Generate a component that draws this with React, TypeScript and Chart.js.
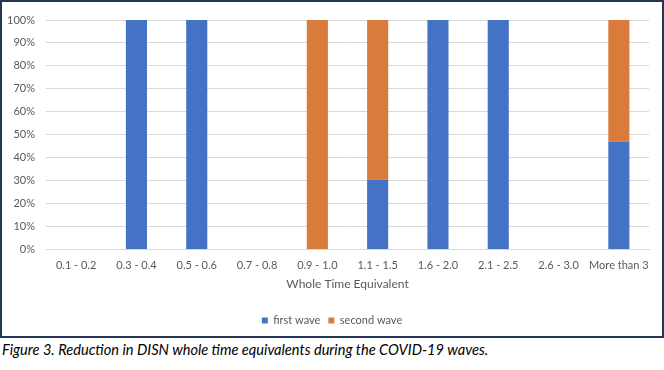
import React, { useEffect, useRef } from "react";
import { Chart, registerables } from "chart.js";

Chart.register(...registerables);

const categories = ["0.1 - 0.2", "0.3 - 0.4", "0.5 - 0.6", "0.7 - 0.8", "0.9 - 1.0", "1.1 - 1.5", "1.6 - 2.0", "2.1 - 2.5", "2.6 - 3.0", "More than 3"];
const firstWave = [0, 100, 100, 0, 0, 30.5, 100, 100, 0, 47];
const secondWave = [0, 0, 0, 0, 100, 69.5, 0, 0, 0, 53];
const seriesNames = ["first wave", "second wave"];
const xTitle = "Whole Time Equivalent";
const caption = "Figure 3. Reduction in DISN whole time equivalents during the COVID-19 waves.";

const FONT = "Lato, 'Open Sans', sans-serif";

export default function App() {
  const ref = useRef<HTMLCanvasElement>(null);
  useEffect(() => {
    document.body.style.margin = "0";
    const chart = new Chart(ref.current!, {
      type: "bar",
      data: {
        labels: categories,
        datasets: [
          { label: seriesNames[0], data: firstWave, backgroundColor: "#4472C4", borderWidth: 0 },
          { label: seriesNames[1], data: secondWave, backgroundColor: "#D97B3B", borderWidth: 0 },
        ],
      },
      options: {
        animation: false,
        responsive: false,
        maintainAspectRatio: false,
        datasets: { bar: { categoryPercentage: 1, barPercentage: 0.35 } },
        layout: { padding: { left: 0, right: 0, top: 18, bottom: 0 } },
        plugins: {
          legend: {
            position: "bottom",
            labels: {
              boxWidth: 6,
              boxHeight: 6,
              color: "#595959",
              font: { family: FONT, size: 11 },
              padding: 8,
            },
          },
          tooltip: { enabled: false },
        },
        scales: {
          x: {
            stacked: true,
            grid: { display: false, drawTicks: false },
            border: { color: "#D9D9D9" },
            ticks: { color: "#595959", font: { family: FONT, size: 11 }, padding: 9, maxRotation: 0, autoSkip: false },
            title: { display: true, text: xTitle, color: "#595959", font: { family: FONT, size: 12 }, padding: { top: -4, bottom: 16 } },
          },
          y: {
            stacked: true,
            min: 0,
            max: 100,
            ticks: { stepSize: 10, color: "#595959", font: { family: FONT, size: 11 }, padding: 11, callback: (v: any) => v + "%" },
            grid: { color: "#D9D9D9", drawTicks: false },
            border: { display: false },
            afterFit: (s: any) => { s.width = 44; },
          },
          yRight: {
            position: "right",
            display: true,
            min: 0,
            max: 100,
            grid: { display: false, drawTicks: false },
            border: { display: false },
            ticks: { display: false },
            afterFit: (s: any) => { s.width = 13; },
          },
        },
      },
    });
    return () => chart.destroy();
  }, []);
  return (
    <div style={{ position: "absolute", left: 0, top: 0, width: 664, height: 370, background: "#fff" }}>
      <div style={{ position: "absolute", left: 0, top: 0, width: 664, height: 338, border: "2px solid #243555", boxSizing: "border-box" }}>
        <canvas ref={ref} width={660} height={334} style={{ display: "block" }} />
      </div>
      <div style={{ position: "absolute", left: 2, top: 341, fontFamily: FONT, fontStyle: "italic", fontSize: 14.6, color: "#000", whiteSpace: "nowrap" }}>{caption}</div>
    </div>
  );
}
